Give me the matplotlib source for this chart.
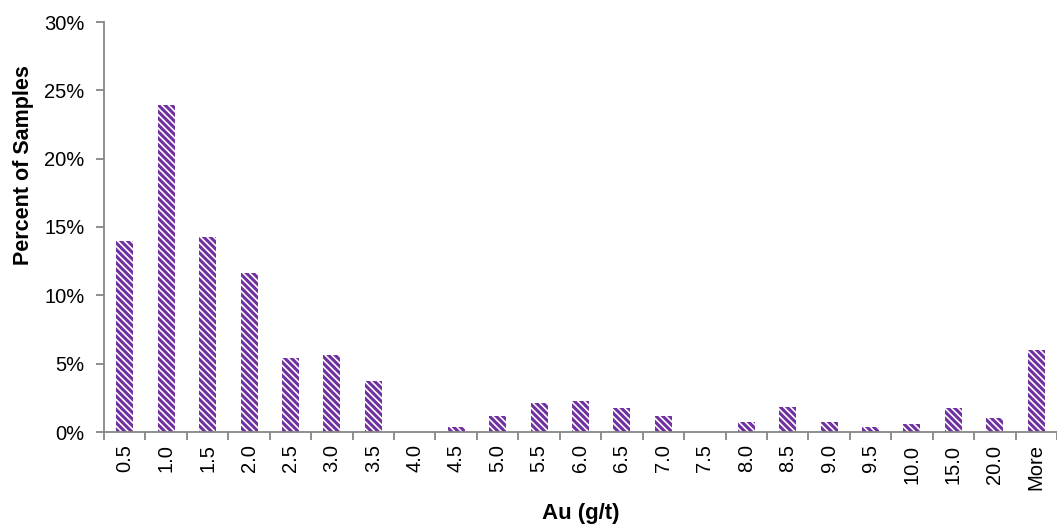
import numpy as np
import matplotlib.pyplot as plt

plt.rcParams['font.family'] = ['Liberation Sans', 'DejaVu Sans']
plt.rcParams['hatch.linewidth'] = 2.2

# Histogram bins and percent of samples
bins = ["0.5", "1.0", "1.5", "2.0", "2.5", "3.0", "3.5", "4.0", "4.5", "5.0",
        "5.5", "6.0", "6.5", "7.0", "7.5", "8.0", "8.5", "9.0", "9.5", "10.0",
        "15.0", "20.0", "More"]
percent = [14.0, 23.9, 14.3, 11.6, 5.4, 5.6, 3.7, 0.0, 0.4, 1.2,
           2.1, 2.3, 1.75, 1.2, 0.0, 0.7, 1.8, 0.7, 0.35, 0.6,
           1.75, 1.0, 6.0]

fig = plt.figure(figsize=(10.57, 5.25), dpi=100)
ax = fig.add_axes([104 / 1057, 93 / 525, 953 / 1057, 410 / 525])

x = np.arange(len(bins))
ax.bar(x, percent, width=0.41, color='white', edgecolor='#7030A0',
       linewidth=0, hatch='\\\\\\\\\\')

ax.set_xlim(-0.5, len(bins) - 0.5)
ax.set_ylim(0, 30)
ax.set_yticks(np.arange(0, 31, 5))
ax.set_yticklabels([f"{v}%" for v in range(0, 31, 5)], fontsize=14.5)
ax.set_xticks(x)
ax.set_xticklabels(bins, rotation=90, fontsize=14.5)
ax.set_xticks(np.arange(-0.5, len(bins), 1), minor=True)
ax.tick_params(axis='x', which='major', length=0, pad=9)
ax.tick_params(axis='x', which='minor', length=6, color='#868686', width=1.3)
ax.tick_params(axis='y', length=6, color='#868686', width=1.3, pad=8)

for s in ['top', 'right']:
    ax.spines[s].set_visible(False)
for s in ['left', 'bottom']:
    ax.spines[s].set_color('#868686')
    ax.spines[s].set_linewidth(1.3)

ax.set_xlabel('Au (g/t)', fontsize=16, fontweight='bold', labelpad=9)
ax.set_ylabel('Percent of Samples', fontsize=15.5, fontweight='bold')
ax.yaxis.set_label_coords(-0.073, 0.651)

fig.savefig('out.png', dpi=100)
